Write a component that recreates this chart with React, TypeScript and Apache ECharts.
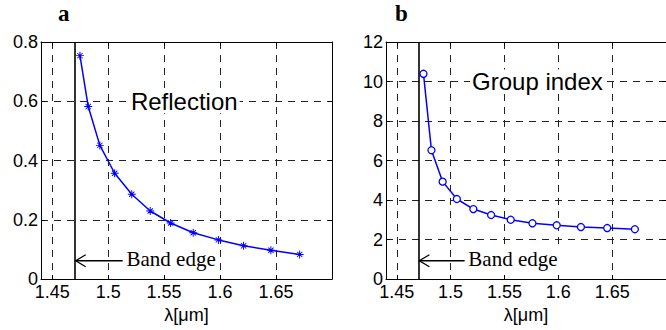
import React, { useEffect, useRef } from "react";
import * as echarts from "echarts";

// Wavelengths (µm) shared by both panels
const wavelength = [1.4748, 1.4822, 1.4926, 1.5058, 1.5211, 1.5376, 1.5558, 1.576, 1.5985, 1.621, 1.6454, 1.6711];
// Panel a: reflection
const reflection = [0.754, 0.582, 0.451, 0.357, 0.286, 0.2295, 0.189, 0.156, 0.132, 0.112, 0.097, 0.083];
// Panel b: group index
const groupIndex = [10.39, 6.52, 4.93, 4.05, 3.54, 3.24, 3.0, 2.82, 2.72, 2.63, 2.58, 2.52];

const bandEdge = 1.466;
const xMin = 1.44;
const xMax = 1.7;
const reflectionMax = 0.8;
const reflectionStep = 0.2;
const groupMax = 12;
const groupStep = 2;

const panelLetters = ["a", "b"];
const panelNames = ["Reflection", "Group index"];
const panelNameAt = [
  [1.568, 0.6],
  [1.5806, 10],
];
const xName = "λ[μm]";
const bandEdgeText = "Band edge";
// arrow start/end and text start (x), height as fraction of y range
const arrowX = [1.471, 1.513];
const bandTextX = 1.5155;
const bandTextFrac = 0.077;

const SANS = "'Liberation Sans', Arial, sans-serif";
const SERIF = "'Liberation Serif', 'Times New Roman', serif";
const BLUE = "#0000ff";
const STAR =
  "path://M4.4,0H5.6V4.4H10V5.6H5.6V10H4.4V5.6H0V4.4H4.4Z M1.3,2.1L2.1,1.3L8.7,7.9L7.9,8.7Z M7.9,1.3L8.7,2.1L2.1,8.7L1.3,7.9Z";

const grids = [
  { left: 41, top: 42, width: 291, height: 237 },
  { left: 386, top: 42, width: 290, height: 237 },
];

const dashed = { show: true, lineStyle: { color: "#222", width: 1, type: [7, 6] as any } };

function bottomX(gridIndex: number) {
  return {
    type: "value",
    gridIndex,
    min: xMin,
    max: xMax,
    position: "bottom",
    axisLine: { show: true, onZero: false, lineStyle: { color: "#000", width: 1 } },
    axisTick: { show: true, inside: true, length: 4, lineStyle: { color: "#000" } },
    axisLabel: {
      show: true,
      showMinLabel: false,
      showMaxLabel: false,
      color: "#000",
      fontFamily: SANS,
      fontSize: 18,
      lineHeight: 14,
      margin: 6,
    },
    splitLine: dashed,
    name: xName,
    nameLocation: "middle",
    nameGap: 21,
    nameTextStyle: { color: "#000", fontFamily: SANS, fontSize: 18 },
  };
}

function topX(gridIndex: number) {
  return {
    type: "value",
    gridIndex,
    min: xMin,
    max: xMax,
    position: "top",
    axisLine: { show: true, onZero: false, lineStyle: { color: "#000", width: 1 } },
    axisTick: { show: true, inside: true, length: 4, lineStyle: { color: "#000" } },
    axisLabel: { show: false },
    splitLine: { show: false },
  };
}

function leftY(gridIndex: number, max: number, step: number) {
  return {
    type: "value",
    gridIndex,
    min: 0,
    max,
    interval: step,
    position: "left",
    axisLine: { show: true, onZero: false, lineStyle: { color: "#000", width: 1 } },
    axisTick: { show: true, inside: true, length: 4, lineStyle: { color: "#000" } },
    axisLabel: { show: true, color: "#000", fontFamily: SANS, fontSize: 18, lineHeight: 14, margin: 3 },
    splitLine: dashed,
  };
}

function rightY(gridIndex: number, max: number, step: number) {
  return {
    type: "value",
    gridIndex,
    min: 0,
    max,
    interval: step,
    position: "right",
    axisLine: { show: true, onZero: false, lineStyle: { color: "#000", width: 1 } },
    axisTick: { show: true, inside: true, length: 4, lineStyle: { color: "#000" } },
    axisLabel: { show: false },
    splitLine: { show: false },
  };
}

const bandEdgeLine = {
  silent: true,
  symbol: ["none", "none"],
  label: { show: false },
  lineStyle: { color: "#000", width: 1.6, type: "solid" },
  data: [{ xAxis: bandEdge }],
};

export default function App() {
  const ref = useRef<HTMLDivElement>(null);

  useEffect(() => {
    document.body.style.margin = "0";
    if (!ref.current) return;
    const chart = echarts.init(ref.current, undefined, { renderer: "svg" });

    chart.setOption({
      animation: false,
      backgroundColor: "#fff",
      title: panelLetters.map((t, i) => ({
        text: t,
        left: grids[i].left + (i === 0 ? 17 : 9),
        top: 2,
        padding: 0,
        textStyle: { fontFamily: SERIF, fontWeight: "bold", fontSize: 23, color: "#000" },
      })),
      grid: grids.map((g) => ({ ...g, containLabel: false })),
      xAxis: [bottomX(0), topX(0), bottomX(1), topX(1)],
      yAxis: [
        leftY(0, reflectionMax, reflectionStep),
        rightY(0, reflectionMax, reflectionStep),
        leftY(1, groupMax, groupStep),
        rightY(1, groupMax, groupStep),
      ],
      series: [
        {
          type: "line",
          xAxisIndex: 0,
          yAxisIndex: 0,
          data: wavelength.map((w, i) => [w, reflection[i]]),
          lineStyle: { color: BLUE, width: 1.5 },
          itemStyle: { color: BLUE },
          symbol: STAR,
          symbolSize: 8,
          showAllSymbol: true,
          markLine: bandEdgeLine,
          z: 5,
        },
        {
          type: "line",
          xAxisIndex: 2,
          yAxisIndex: 2,
          data: wavelength.map((w, i) => [w, groupIndex[i]]),
          lineStyle: { color: BLUE, width: 1.5 },
          itemStyle: { color: "#fff", borderColor: BLUE, borderWidth: 1.3 },
          symbol: "circle",
          symbolSize: 7,
          showAllSymbol: true,
          markLine: bandEdgeLine,
          z: 5,
        },
      ],
    });

    // Annotations placed in data coordinates of each panel
    const yMaxes = [reflectionMax, groupMax];
    const graphics: any[] = [];
    [0, 1].forEach((s) => {
      const yA = yMaxes[s] * bandTextFrac;
      const p1 = chart.convertToPixel({ seriesIndex: s }, [arrowX[0], yA]) as number[];
      const p2 = chart.convertToPixel({ seriesIndex: s }, [arrowX[1], yA]) as number[];
      const pt = chart.convertToPixel({ seriesIndex: s }, [bandTextX, yA]) as number[];
      const pn = chart.convertToPixel({ seriesIndex: s }, panelNameAt[s]) as number[];
      graphics.push(
        {
          type: "line",
          shape: { x1: p1[0], y1: p1[1], x2: p2[0], y2: p2[1] },
          style: { stroke: "#000", lineWidth: 1.3 },
          z: 10,
        },
        {
          type: "polyline",
          shape: {
            points: [
              [p1[0] + 10, p1[1] - 6],
              [p1[0], p1[1]],
              [p1[0] + 10, p1[1] + 6],
            ],
          },
          style: { stroke: "#000", lineWidth: 1.3, fill: null },
          z: 10,
        },
        {
          type: "text",
          x: pt[0],
          y: pt[1] - 2,
          z: 10,
          style: {
            text: bandEdgeText,
            fill: "#000",
            font: `21px ${SERIF}`,
            align: "left",
            verticalAlign: "middle",
            backgroundColor: "#fff",
            padding: [1, 2, 1, 1],
          },
        },
        {
          type: "text",
          x: pn[0],
          y: pn[1],
          z: 10,
          style: {
            text: panelNames[s],
            fill: "#000",
            font: `24px ${SANS}`,
            align: "center",
            verticalAlign: "middle",
            backgroundColor: "#fff",
            padding: [0, 2],
          },
        }
      );
    });
    chart.setOption({ graphic: graphics });

    return () => chart.dispose();
  }, []);

  return (
    <div
      ref={ref}
      style={{ position: "absolute", left: 0, top: 0, width: 666, height: 330, background: "#fff" }}
    />
  );
}
